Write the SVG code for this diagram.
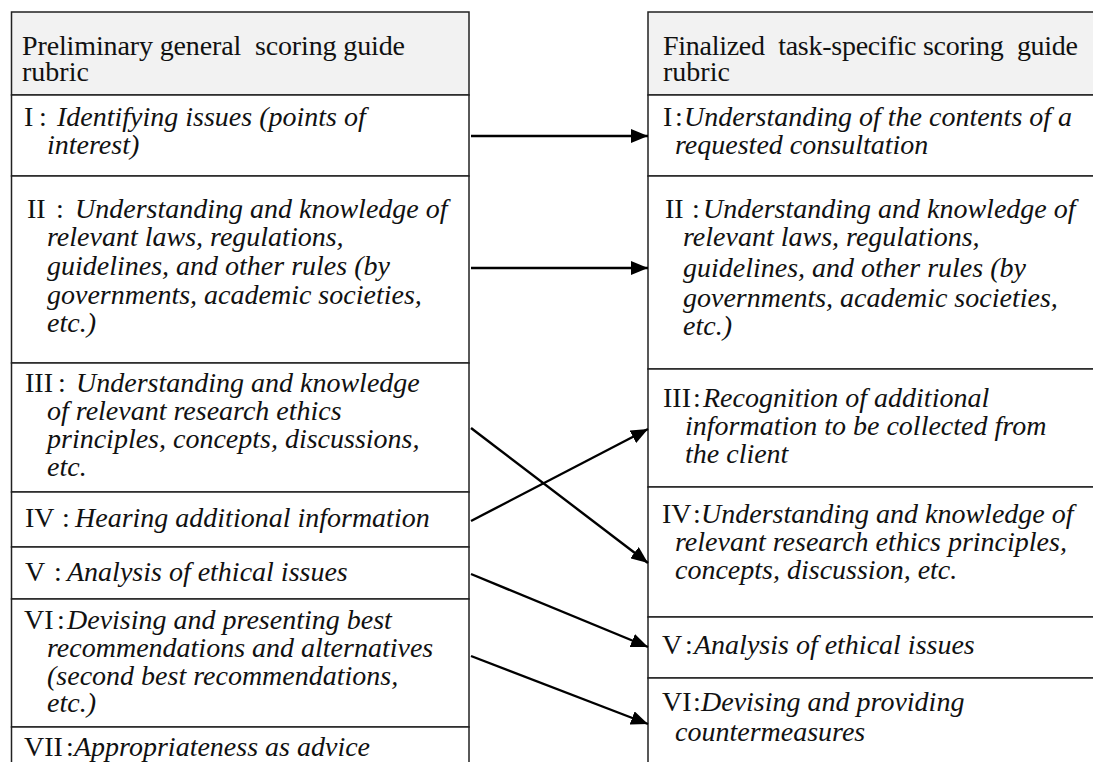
<svg xmlns="http://www.w3.org/2000/svg" width="1093" height="762" viewBox="0 0 1093 762">
<defs>
<style>
text{font-family:"Liberation Serif","Times New Roman",serif;font-size:28px;fill:#111;white-space:pre}
.it{font-style:italic}
.hd{fill:#f2f2f2;stroke:#222;stroke-width:1.5}
.rw{fill:#fff;stroke:#222;stroke-width:1.5}
.con{stroke:#000;stroke-width:2.4;fill:none}
</style>
<marker id="ah" viewBox="0 0 17 14" refX="17" refY="7" markerWidth="17" markerHeight="14" markerUnits="userSpaceOnUse" orient="auto">
<path d="M0,0 L17,7 L0,14 z" fill="#000"/>
</marker>
</defs>
<g id="left">
<g id="L-header"><rect class="hd" x="11.5" y="12" width="457.5" height="83"/><text x="22" y="55" textLength="383" lengthAdjust="spacing">Preliminary general  scoring guide</text><text x="22" y="81">rubric</text></g>
<g id="L-I"><rect class="rw" x="11.5" y="95" width="457.5" height="81"/><text x="24" y="126">I</text><text x="39" y="126">:</text><text class="it" x="57" y="126">Identifying issues (points of</text><text class="it" x="47" y="154">interest)</text></g>
<g id="L-II"><rect class="rw" x="11.5" y="176" width="457.5" height="187"/><text x="27" y="218">II</text><text x="56" y="218">:</text><text class="it" x="75" y="218">Understanding and knowledge of</text><text class="it" x="47" y="246">relevant laws, regulations,</text><text class="it" x="47" y="275">guidelines, and other rules (by</text><text class="it" x="47" y="304">governments, academic societies,</text><text class="it" x="47" y="332">etc.)</text></g>
<g id="L-III"><rect class="rw" x="11.5" y="363" width="457.5" height="129"/><text x="25" y="392">III</text><text x="58" y="392">:</text><text class="it" x="76" y="392">Understanding and knowledge</text><text class="it" x="47" y="420">of relevant research ethics</text><text class="it" x="47" y="448">principles, concepts, discussions,</text><text class="it" x="47" y="476">etc.</text></g>
<g id="L-IV"><rect class="rw" x="11.5" y="492" width="457.5" height="55"/><text x="25" y="527">IV</text><text x="62" y="527">:</text><text class="it" x="75" y="527">Hearing additional information</text></g>
<g id="L-V"><rect class="rw" x="11.5" y="547" width="457.5" height="52"/><text x="25" y="581">V</text><text x="54" y="581">:</text><text class="it" x="67" y="581">Analysis of ethical issues</text></g>
<g id="L-VI"><rect class="rw" x="11.5" y="599" width="457.5" height="128"/><text x="24" y="629">VI</text><text x="57" y="629">:</text><text class="it" x="67" y="629">Devising and presenting best</text><text class="it" x="47" y="657">recommendations and alternatives</text><text class="it" x="47" y="685">(second best recommendations,</text><text class="it" x="47" y="712">etc.)</text></g>
<g id="L-VII"><rect class="rw" x="11.5" y="727" width="457.5" height="50"/><text x="24" y="756">VII</text><text x="66" y="756">:</text><text class="it" x="74" y="756">Appropriateness as advice</text></g>
</g>
<g id="right">
<g id="R-header"><rect class="hd" x="648" y="12" width="460" height="83"/><text x="663" y="55" textLength="415" lengthAdjust="spacing">Finalized  task-specific scoring  guide</text><text x="663" y="81">rubric</text></g>
<g id="R-I"><rect class="rw" x="648" y="95" width="460" height="81"/><text x="663" y="126">I</text><text x="675" y="126">:</text><text class="it" x="684" y="126">Understanding of the contents of a</text><text class="it" x="675" y="154">requested consultation</text></g>
<g id="R-II"><rect class="rw" x="648" y="176" width="460" height="193"/><text x="665" y="218">II</text><text x="692" y="218">:</text><text class="it" x="703" y="218">Understanding and knowledge of</text><text class="it" x="683" y="246">relevant laws, regulations,</text><text class="it" x="683" y="277">guidelines, and other rules (by</text><text class="it" x="683" y="307">governments, academic societies,</text><text class="it" x="683" y="335">etc.)</text></g>
<g id="R-III"><rect class="rw" x="648" y="369" width="460" height="118"/><text x="663" y="407">III</text><text x="693" y="407">:</text><text class="it" x="703" y="407">Recognition of additional</text><text class="it" x="685" y="435">information to be collected from</text><text class="it" x="685" y="463">the client</text></g>
<g id="R-IV"><rect class="rw" x="648" y="487" width="460" height="130"/><text x="662" y="523">IV</text><text x="693" y="523">:</text><text class="it" x="701" y="523">Understanding and knowledge of</text><text class="it" x="675" y="551">relevant research ethics principles,</text><text class="it" x="675" y="579">concepts, discussion, etc.</text></g>
<g id="R-V"><rect class="rw" x="648" y="617" width="460" height="61"/><text x="662" y="654">V</text><text x="685" y="654">:</text><text class="it" x="694" y="654">Analysis of ethical issues</text></g>
<g id="R-VI"><rect class="rw" x="648" y="678" width="460" height="100"/><text x="662" y="711">VI</text><text x="693" y="711">:</text><text class="it" x="701" y="711">Devising and providing</text><text class="it" x="675" y="741">countermeasures</text></g>
</g>
<g id="connectors">
<line class="con" x1="471" y1="136" x2="648" y2="136" marker-end="url(#ah)"/>
<line class="con" x1="471" y1="268" x2="648" y2="268" marker-end="url(#ah)"/>
<line class="con" x1="471" y1="428" x2="648" y2="563" marker-end="url(#ah)"/>
<line class="con" x1="471" y1="521" x2="648" y2="429" marker-end="url(#ah)"/>
<line class="con" x1="471" y1="574" x2="648" y2="647" marker-end="url(#ah)"/>
<line class="con" x1="471" y1="656" x2="648" y2="724" marker-end="url(#ah)"/>
</g>
</svg>
